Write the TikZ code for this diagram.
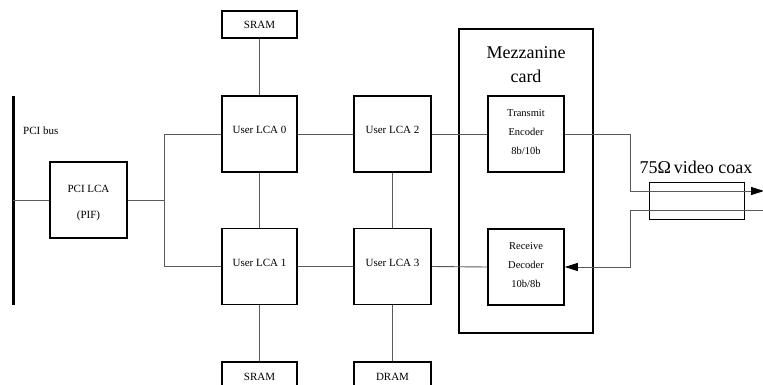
\documentclass[tikz,border=0pt]{standalone}
\usepackage{fontspec}
\setmainfont{Liberation Serif}
\usetikzlibrary{arrows.meta}
\tikzset{
  box/.style={draw=black, line width=1.6pt, rectangle, inner sep=0pt, font=\fontsize{11}{13}\selectfont, align=center},
  conn/.style={draw=black!65, line width=0.9pt},
  tip/.style={-{Triangle[length=13pt,width=8pt,color=black]}},
  small/.style={font=\fontsize{11}{13}\selectfont, inner sep=0pt},
  big/.style={font=\fontsize{18}{24}\selectfont, inner sep=0pt, align=center},
}
\begin{document}
\begin{tikzpicture}[x=1pt,y=-1pt]
\clip (0,0) rectangle (763,385);
% PCI bus
\coordinate (busT) at (13,96);
\coordinate (busB) at (13,305);
\draw[line width=3pt] (busT) -- (busB);
\node[small, anchor=west] (buslbl) at (23,131) {PCI bus};
% boxes
\node[box, minimum width=77, minimum height=76] (pci) at (88.5,200) {PCI LCA\\[13pt](PIF)\\[-17pt]};
\node[box, minimum width=75, minimum height=27] (sram0) at (259.5,24.5) {SRAM};
\node[box, minimum width=75, minimum height=76] (u0) at (259.5,134) {User LCA 0\\[-5pt]};
\node[box, minimum width=75, minimum height=76] (u1) at (259.5,266.5) {User LCA 1\\[-5pt]};
\node[box, minimum width=77, minimum height=76] (u2) at (392.5,134) {User LCA 2\\[-5pt]};
\node[box, minimum width=77, minimum height=76] (u3) at (392.5,266.5) {User LCA 3\\[-5pt]};
\node[box, minimum width=75, minimum height=30] (sram1) at (259.5,377) {SRAM};
\node[box, minimum width=77, minimum height=30] (dram) at (392.5,377) {DRAM};
% mezzanine
\node[box, minimum width=134, minimum height=304] (mezz) at (526,181) {};
\node[big] (mezzlbl) at (526,65) {Mezzanine\\card};
\node[box, minimum width=76, minimum height=76, font=\fontsize{10.5}{13}\selectfont] (tx) at (526,134) {Transmit\\[6pt]Encoder\\[6pt]8b/10b\\[-9pt]};
\node[box, minimum width=76, minimum height=76, font=\fontsize{10.5}{13}\selectfont] (rx) at (526,267) {Receive\\[6pt]Decoder\\[6pt]10b/8b\\[-9pt]};
% coax
\node[draw=black, line width=0.9pt, minimum width=95, minimum height=37, inner sep=0pt] (coax) at (696.5,200.5) {};
\node[big, anchor=base] (coaxlbl) at (696,173) {75Ω\,video coax};
% connectors
\coordinate (jt) at (164,134);
\coordinate (jb) at (164,266.5);
\draw[conn] (busT |- pci.west) -- (pci.west);
\draw[conn] (pci.east) -- (pci.east -| jt);
\draw[conn] (u0.west) -- (jt) -- (jb) -- (u1.west);
\draw[conn] (sram0.south) -- (u0.north);
\draw[conn] (u0.south) -- (u1.north);
\draw[conn] (u1.south) -- (sram1.north);
\draw[conn] (u2.south) -- (u3.north);
\draw[conn] (u3.south) -- (dram.north);
\draw[conn] (u0.east) -- (u2.west);
\draw[conn] (u1.east) -- (u3.west);
\draw[conn] (u2.east) -- (tx.west);
\draw[conn] (u3.east) -- (rx.west);
\coordinate (txk) at (630,134);
\coordinate (txo) at (763,191);
\coordinate (rxi) at (763,210);
\draw[conn, tip, shorten >=-1pt] (tx.east) -- (txk) |- (txo);
\draw[conn, tip] (rxi) -| (630,267) -- (rx.east);
\end{tikzpicture}
\end{document}
